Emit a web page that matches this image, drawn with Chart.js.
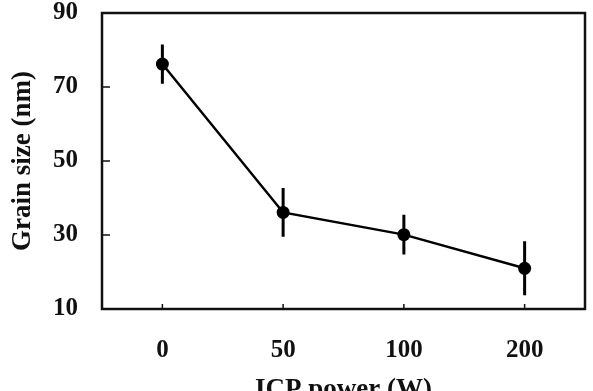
<!DOCTYPE html>
<html>
<head>
<meta charset="utf-8">
<script src="https://cdn.jsdelivr.net/npm/chart.js@4"></script>
<style>
    html, body { margin: 0; padding: 0; background: #fff; overflow: hidden; }
    #wrap { width: 593px; height: 416px; }
</style>
</head>
<body>
<div id="wrap"><canvas id="grainChart" width="593" height="416"></canvas></div>
<script>
// Data
const powerLabels = ['0', '50', '100', '200'];
const grainSize = [76.2, 36.1, 30.1, 21.0];
const grainErr = [5.3, 6.6, 5.4, 7.3];
const yTicks = [10, 30, 50, 70, 90];

const SERIF = '"Liberation Serif", "Times New Roman", serif';

// Draws the box round the plot, the inward ticks and the error bars
const framePlugin = {
    id: 'frame',
    afterDatasetsDraw(chart) {
        const ctx = chart.ctx;
        const area = chart.chartArea;
        const x = chart.scales.x;
        const y = chart.scales.y;
        ctx.save();
        ctx.strokeStyle = '#111';
        ctx.lineWidth = 2.5;
        ctx.strokeRect(area.left, area.top, area.right - area.left, area.bottom - area.top);

        ctx.lineWidth = 1.5;
        ctx.beginPath();
        yTicks.forEach(v => {
            const py = y.getPixelForValue(v);
            ctx.moveTo(area.left, py);
            ctx.lineTo(area.left + 8, py);
        });
        powerLabels.forEach((l, i) => {
            const px = x.getPixelForValue(i);
            ctx.moveTo(px, area.bottom);
            ctx.lineTo(px, area.bottom - 5);
        });
        ctx.stroke();

        // Error bars
        ctx.lineWidth = 3;
        ctx.strokeStyle = '#000';
        ctx.beginPath();
        grainSize.forEach((v, i) => {
            const px = x.getPixelForValue(i);
            ctx.moveTo(px, y.getPixelForValue(v + grainErr[i]));
            ctx.lineTo(px, y.getPixelForValue(v - grainErr[i]));
        });
        ctx.stroke();
        ctx.restore();
    }
};

const ctx = document.getElementById('grainChart').getContext('2d');
new Chart(ctx, {
    type: 'line',
    data: {
        labels: powerLabels,
        datasets: [{
            data: grainSize,
            borderColor: '#000',
            backgroundColor: '#000',
            borderWidth: 2.5,
            pointRadius: 6.5,
            pointBackgroundColor: '#000',
            pointBorderWidth: 0,
            tension: 0,
        }]
    },
    options: {
        responsive: false,
        animation: false,
        layout: { padding: { top: 0, right: 8, left: 0, bottom: 0 } },
        plugins: {
            legend: { display: false },
            tooltip: { enabled: false },
        },
        scales: {
            x: {
                type: 'category',
                offset: true,
                grid: { display: false, drawTicks: false },
                border: { display: false },
                ticks: {
                    color: '#111',
                    padding: 27,
                    font: { family: SERIF, size: 25, weight: 'bold' },
                },
                title: {
                    display: true,
                    text: 'ICP power (W)',
                    color: '#111',
                    font: { family: SERIF, size: 27, weight: 'bold' },
                    padding: { top: 0, bottom: 10 },
                },
                afterFit(scale) { scale.height = 107; },
            },
            y: {
                min: 10,
                max: 90,
                grid: { display: false, drawTicks: false },
                border: { display: false },
                afterBuildTicks(scale) {
                    scale.ticks = yTicks.map(v => ({ value: v }));
                },
                ticks: {
                    color: '#111',
                    padding: 24,
                    font: { family: SERIF, size: 25, weight: 'bold' },
                },
                title: {
                    display: true,
                    text: 'Grain size (nm)',
                    color: '#111',
                    font: { family: SERIF, size: 27, weight: 'bold' },
                    padding: { top: 7, bottom: 0 },
                },
                afterFit(scale) {
                    scale.width = 102;
                    scale.paddingTop = 13;
                    scale.paddingBottom = 0;
                },
            }
        }
    },
    plugins: [framePlugin]
});
</script>
</body>
</html>
